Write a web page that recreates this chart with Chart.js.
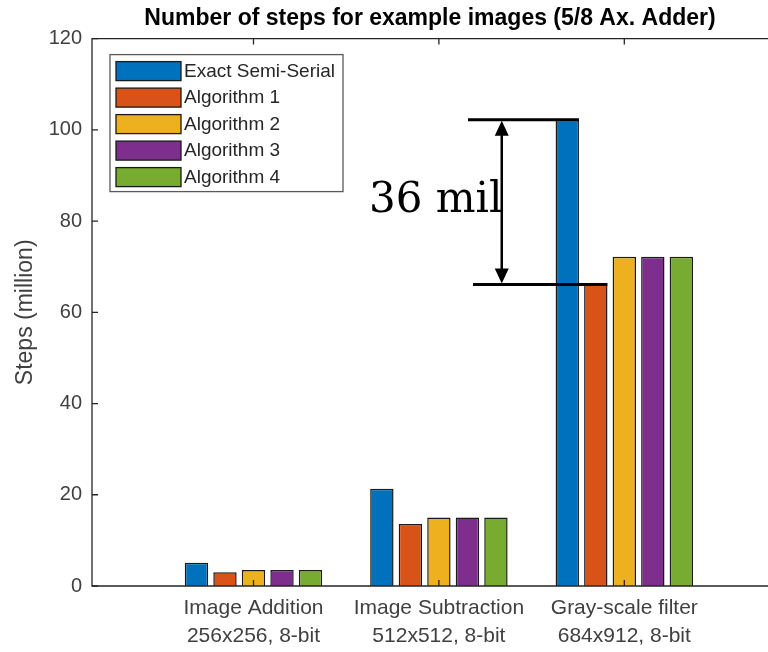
<!DOCTYPE html>
<html>
<head>
<meta charset="utf-8">
<script src="https://cdn.jsdelivr.net/npm/chart.js@4.4.1/dist/chart.umd.min.js"></script>
<style>
  html, body { margin: 0; padding: 0; background: #fff; overflow: hidden; }
  #wrap { width: 768px; height: 652px; }
</style>
</head>
<body>
<div id="wrap"><canvas id="chart_steps"></canvas></div>
<script>
// data (millions of steps)
const categories = [
    ['Image Addition', '256x256, 8-bit'],
    ['Image Subtraction', '512x512, 8-bit'],
    ['Gray-scale filter', '684x912, 8-bit']
];
const categoryPos = [1, 2, 3];
const seriesNames = ['Exact Semi-Serial', 'Algorithm 1', 'Algorithm 2', 'Algorithm 3', 'Algorithm 4'];
const exactSemiSerial = [5.1, 21.3, 102.2];
const algorithm1 = [3.0, 13.6, 66.1];
const algorithm2 = [3.5, 15.0, 72.2];
const algorithm3 = [3.5, 15.0, 72.2];
const algorithm4 = [3.5, 15.0, 72.2];
const seriesColors = ['#0072BD', '#D95319', '#EDB120', '#7E2F8E', '#77AC30'];
const yTicks = [0, 20, 40, 60, 80, 100, 120];

// the "36 mil" marker on the gray-scale group
const gapLabel = '36 mil';
const gapStartTop = 2.157;
const gapStartBottom = 2.184;
const gapArrowX = 2.339;
const gapTextX = 1.623;
const gapTextY = 82;

const allSeries = [exactSemiSerial, algorithm1, algorithm2, algorithm3, algorithm4];
const textColor = '#404040';
const axisColor = '#262626';
const sans = 'Liberation Sans, Arial, Helvetica, sans-serif';

const frame = {
    id: 'frame',
    afterDatasetsDraw(chart) {
        const { ctx, chartArea: a, scales: { x, y } } = chart;
        ctx.save();
        ctx.strokeStyle = axisColor;
        ctx.lineWidth = 1.3;
        ctx.beginPath();
        ctx.moveTo(a.right + 2, a.top);
        ctx.lineTo(a.left, a.top);
        ctx.lineTo(a.left, a.bottom);
        ctx.lineTo(a.right + 2, a.bottom);
        ctx.stroke();
        ctx.beginPath();
        yTicks.forEach(v => {
            const py = y.getPixelForValue(v);
            ctx.moveTo(a.left, py);
            ctx.lineTo(a.left + 6, py);
        });
        categoryPos.forEach(v => {
            const px = x.getPixelForValue(v);
            ctx.moveTo(px, a.top);
            ctx.lineTo(px, a.top + 6);
            ctx.moveTo(px, a.bottom);
            ctx.lineTo(px, a.bottom - 6);
        });
        ctx.stroke();
        ctx.restore();
    }
};

const gapMarker = {
    id: 'gapMarker',
    afterDatasetsDraw(chart) {
        const { ctx, scales: { x, y } } = chart;
        const blue = chart.getDatasetMeta(0).data[2];
        const orange = chart.getDatasetMeta(1).data[2];
        const yTop = y.getPixelForValue(exactSemiSerial[2]);
        const yBot = y.getPixelForValue(algorithm1[2]);
        const ax = x.getPixelForValue(gapArrowX);
        ctx.save();
        ctx.strokeStyle = '#000';
        ctx.fillStyle = '#000';
        ctx.lineWidth = 3;
        ctx.beginPath();
        ctx.moveTo(x.getPixelForValue(gapStartTop), yTop);
        ctx.lineTo(blue.x + blue.width / 2, yTop);
        ctx.moveTo(x.getPixelForValue(gapStartBottom), yBot);
        ctx.lineTo(orange.x + orange.width / 2, yBot);
        ctx.stroke();
        ctx.lineWidth = 2.5;
        ctx.beginPath();
        ctx.moveTo(ax, yTop + 10);
        ctx.lineTo(ax, yBot - 10);
        ctx.stroke();
        ctx.beginPath();
        ctx.moveTo(ax, yTop + 1);
        ctx.lineTo(ax - 7, yTop + 16);
        ctx.lineTo(ax + 7, yTop + 16);
        ctx.closePath();
        ctx.moveTo(ax, yBot - 1);
        ctx.lineTo(ax - 7, yBot - 16);
        ctx.lineTo(ax + 7, yBot - 16);
        ctx.closePath();
        ctx.fill();
        ctx.font = '42px "DejaVu Serif", serif';
        ctx.textBaseline = 'alphabetic';
        ctx.fillText(gapLabel, x.getPixelForValue(gapTextX), y.getPixelForValue(gapTextY));
        ctx.restore();
    }
};

const boxLegend = {
    id: 'boxLegend',
    afterDraw(chart) {
        const { ctx, chartArea: a } = chart;
        const x0 = a.left + 18, y0 = a.top + 16;
        ctx.save();
        ctx.fillStyle = '#fff';
        ctx.fillRect(x0, y0, 233, 137);
        ctx.strokeStyle = '#5a5a5a';
        ctx.lineWidth = 1.3;
        ctx.strokeRect(x0, y0, 233, 137);
        ctx.font = '19px ' + sans;
        ctx.textBaseline = 'middle';
        chart.data.datasets.forEach((ds, i) => {
            const ty = y0 + 7 + i * 26.5;
            ctx.fillStyle = ds.backgroundColor;
            ctx.fillRect(x0 + 6, ty, 65, 19);
            ctx.strokeStyle = '#1a1a1a';
            ctx.strokeRect(x0 + 6, ty, 65, 19);
            ctx.fillStyle = axisColor;
            ctx.fillText(ds.label, x0 + 74, ty + 10);
        });
        ctx.restore();
    }
};

const ctx = document.getElementById('chart_steps');

new Chart(ctx, {
    type: 'bar',
    data: {
        datasets: seriesNames.map((name, i) => ({
            label: name,
            data: categoryPos.map((p, j) => ({ x: p, y: allSeries[i][j] })),
            backgroundColor: seriesColors[i],
            borderColor: '#1a1a1a',
            borderWidth: 1.5,
            categoryPercentage: 0.769,
            barPercentage: 0.82
        }))
    },
    options: {
        responsive: true,
        maintainAspectRatio: false,
        animation: false,
        layout: { padding: { left: 0, right: 0, top: 0, bottom: 0 } },
        plugins: {
            legend: { display: false },
            tooltip: { enabled: false },
            title: {
                display: true,
                fullSize: false,
                text: 'Number of steps for example images (5/8 Ax. Adder)',
                color: '#000',
                font: { family: sans, size: 23, weight: 'bold' },
                padding: { top: 5, bottom: 6 }
            }
        },
        scales: {
            x: {
                type: 'linear',
                offset: false,
                min: 0.129,
                max: 3.775,
                grid: { display: false, drawTicks: false, offset: false },
                border: { display: false },
                afterBuildTicks: s => { s.ticks = categoryPos.map(v => ({ value: v })); },
                afterFit: s => { s.height = 66; },
                ticks: {
                    color: textColor,
                    padding: 9,
                    maxRotation: 0,
                    autoSkip: false,
                    font: { family: sans, size: 21, lineHeight: 1.3 },
                    callback: (v, i) => categories[i]
                }
            },
            y: {
                min: 0,
                max: 120,
                grid: { display: false, drawTicks: false },
                border: { display: false },
                afterFit: s => { s.width = 92; },
                ticks: {
                    stepSize: 20,
                    color: textColor,
                    padding: 10,
                    font: { family: sans, size: 20 }
                },
                title: {
                    display: true,
                    text: 'Steps (million)',
                    color: textColor,
                    font: { family: sans, size: 23 },
                    padding: { top: 12, bottom: 0 }
                }
            }
        }
    },
    plugins: [frame, gapMarker, boxLegend]
});
</script>
</body>
</html>
